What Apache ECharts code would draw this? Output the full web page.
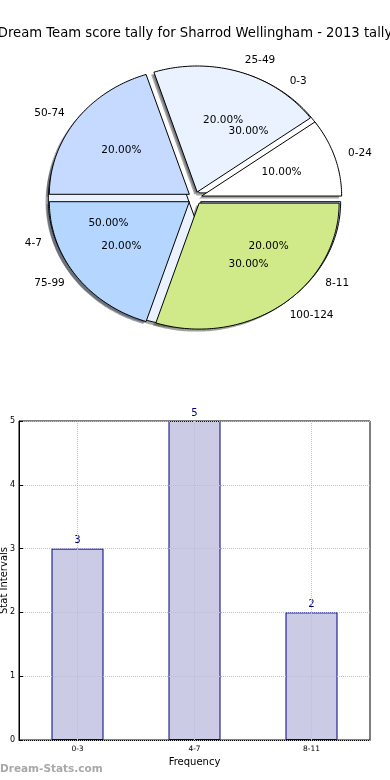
<!DOCTYPE html>
<html><head><meta charset="utf-8">
<script src="https://cdn.jsdelivr.net/npm/echarts@6/dist/echarts.min.js"></script>
<style>html,body{margin:0;padding:0;background:#fff}#c{width:390px;height:780px}</style>
</head><body><div id="c"></div>
<script>
const chartTitle = 'Dream Team score tally for Sharrod Wellingham - 2013 tally';
const scoreRanges = ['0-24','25-49','50-74','75-99','100-124'];
const scorePercents = [10,20,20,20,30];
const scoreColors = ['#ffffff','#eaf1ff','#c6d9ff','#b4d6ff','#d0ea8a'];
const intervalNames = ['0-3','4-7','8-11'];
const intervalPercents = [30,50,20];
const intervalColors = ['#ffffff','#eaf1ff','#c6d9ff'];
const barCategories = ['0-3','4-7','8-11'];
const barValues = [3,5,2];
const yTickMax = 5;

const FONT = 'DejaVu Sans';
const EXPLODE = 0.05;

function wedgeData(pcts) {
  const total = pcts.reduce((a, b) => a + b, 0);
  let acc = 0;
  return pcts.map((p, i) => { const s = acc / total; acc += p; return [s, acc / total, p, i]; });
}
function shade(hex) {
  const r = parseInt(hex.slice(1,3),16), g = parseInt(hex.slice(3,5),16), b = parseInt(hex.slice(5,7),16);
  return 'rgba(' + Math.round(r*0.3) + ',' + Math.round(g*0.3) + ',' + Math.round(b*0.3) + ',0.5)';
}
function makeRender(names, colors, mode) {
  return function (params, api) {
    const s = api.value(0) * 2 * Math.PI, e = api.value(1) * 2 * Math.PI;
    const pct = api.value(2), i = api.value(3);
    const m = (s + e) / 2;
    let ox = EXPLODE * Math.cos(m), oy = EXPLODE * Math.sin(m);
    if (mode === 'label') {
      const lx = ox + 1.1 * Math.cos(m), ly = oy + 1.1 * Math.sin(m);
      const px = ox + 0.6 * Math.cos(m), py = oy + 0.6 * Math.sin(m);
      const lp = api.coord([lx, ly]), pp = api.coord([px, py]);
      return { type: 'group', children: [
        { type: 'text', x: lp[0], y: lp[1], style: { text: names[i], fill: '#000', font: '10.5px ' + FONT, align: lx > 0 ? 'left' : 'right', verticalAlign: 'middle' } },
        { type: 'text', x: pp[0], y: pp[1], style: { text: pct.toFixed(2) + '%', fill: '#000', font: '10.5px ' + FONT, align: 'center', verticalAlign: 'middle' } }
      ]};
    }
    if (mode === 'shadow') { ox -= 0.02; oy -= 0.02; }
    const pts = [api.coord([ox, oy])];
    const n = Math.max(2, Math.ceil((e - s) / (Math.PI / 180)));
    for (let k = 0; k <= n; k++) {
      const t = s + (e - s) * k / n;
      pts.push(api.coord([ox + Math.cos(t), oy + Math.sin(t)]));
    }
    if (mode === 'shadow') {
      return { type: 'polygon', shape: { points: pts }, style: { fill: shade(colors[i]), stroke: 'none' } };
    }
    return { type: 'polygon', shape: { points: pts }, style: { fill: colors[i], stroke: '#000', lineWidth: 1 } };
  };
}
function pieSeries(pcts, names, colors, mode, z) {
  return { type: 'custom', coordinateSystem: 'cartesian2d', xAxisIndex: 0, yAxisIndex: 0,
    clip: false, silent: true, z: z, renderItem: makeRender(names, colors, mode), data: wedgeData(pcts) };
}

const chart = echarts.init(document.getElementById('c'), null, { renderer: 'canvas' });
chart.setOption({
  animation: false,
  backgroundColor: '#fff',
  title: { text: chartTitle, left: 'center', top: 22, textStyle: { fontFamily: FONT, fontSize: 13.2, fontWeight: 'normal', color: '#000' } },
  grid: [
    { left: 20, width: 350, top: 40.5, height: 315, show: false, outerBoundsMode: 'none', containLabel: false },
    { left: 19, right: 20, top: 421, bottom: 40, show: true, borderColor: '#000', borderWidth: 1, backgroundColor: 'transparent', outerBoundsMode: 'none', containLabel: false }
  ],
  xAxis: [
    { type: 'value', gridIndex: 0, min: -1.25, max: 1.25, show: false },
    { type: 'category', gridIndex: 1, data: barCategories, boundaryGap: true,
      axisLine: { lineStyle: { color: '#000' } }, axisTick: { show: false },
      axisLabel: { fontFamily: FONT, fontSize: 7.5, color: '#000', margin: 5 },
      splitLine: { show: false },
      name: 'Frequency', nameLocation: 'middle', nameGap: 17, nameMoveOverlap: false,
      nameTextStyle: { fontFamily: FONT, fontSize: 10, color: '#000' } }
  ],
  yAxis: [
    { type: 'value', gridIndex: 1 === 1 ? 1 : 1, min: 0, max: yTickMax, interval: 1, z: 4,
      axisLine: { show: true, lineStyle: { color: '#000' } }, axisTick: { show: true, inside: true, length: 4, lineStyle: { color: '#000' } },
      axisLabel: { fontFamily: FONT, fontSize: 8, color: '#000', margin: 4 },
      splitLine: { show: true, lineStyle: { type: 'dotted', color: '#c0c0c0', width: 1 } },
      name: 'Stat Intervals', nameLocation: 'middle', nameGap: 10, nameRotate: 90, nameMoveOverlap: false,
      nameTextStyle: { fontFamily: FONT, fontSize: 10, color: '#000' } },
    { type: 'value', gridIndex: 0, min: -1.25, max: 1.25, show: false }
  ],
  series: [
    pieSeries(intervalPercents, intervalNames, intervalColors, 'shadow', 1),
    pieSeries(scorePercents, scoreRanges, scoreColors, 'shadow', 1),
    pieSeries(intervalPercents, intervalNames, intervalColors, 'wedge', 2),
    pieSeries(scorePercents, scoreRanges, scoreColors, 'wedge', 3),
    pieSeries(scorePercents, scoreRanges, scoreColors, 'label', 5),
    pieSeries(intervalPercents, intervalNames, intervalColors, 'label', 5),
    { type: 'bar', xAxisIndex: 1, yAxisIndex: 0, data: barValues, barWidth: 52, z: 2,
      itemStyle: { color: '#cbcbe5', borderColor: '#000080', borderWidth: 1 },
      label: { show: true, position: 'top', distance: 3, color: '#000080', fontFamily: FONT, fontSize: 10 },
      markLine: { silent: true, symbol: 'none', z: 5, label: { show: false },
        lineStyle: { type: 'dotted', color: '#c0c0c0', width: 1 },
        data: barCategories.map(c => ({ xAxis: c })) } }
  ].map(s => (s.type === 'custom' ? Object.assign(s, { yAxisIndex: 1 }) : s)),
  graphic: [
    { type: 'text', left: 0, top: 764, z: 10, style: { text: 'Dream-Stats.com', fill: '#a8a8a8', font: 'bold 10.5px ' + FONT } }
  ]
});
</script></body></html>
